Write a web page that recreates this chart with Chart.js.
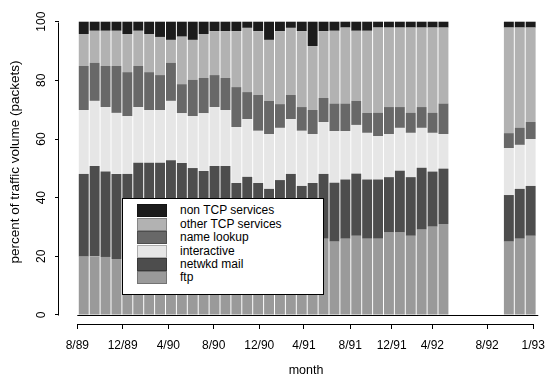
<!DOCTYPE html>
<html>
<head>
<meta charset="utf-8">
<script src="https://cdn.jsdelivr.net/npm/chart.js@4.4.1/dist/chart.umd.min.js"></script>
<style>
  html, body { margin: 0; padding: 0; background: #fff; }
  #wrap { position: relative; width: 553px; height: 376px; }
  #legend {
    position: absolute; left: 122px; top: 198px; width: 200px; height: 95px;
    border: 1px solid #000; background: #fff;
    font: 12px "Liberation Sans", Arial, sans-serif; color: #000;
  }
  .row { position: absolute; left: 14px; height: 13px; }
  .sw { position: absolute; left: 0; top: 0; width: 30px; height: 13px; box-sizing: border-box; border: 1px solid rgba(0,0,0,0.25); }
  .lbl { position: absolute; left: 43px; top: -1px; line-height: 14px; white-space: nowrap; }
</style>
</head>
<body>
<div id="wrap">
  <canvas id="chart" width="553" height="376"></canvas>
  <div id="legend"></div>
</div>
<script>
// one bar per month, 8/89 .. 1/93 (no data 6/92 - 10/92)
const months = ['8/89','9/89','10/89','11/89','12/89','1/90','2/90','3/90','4/90','5/90','6/90','7/90',
  '8/90','9/90','10/90','11/90','12/90','1/91','2/91','3/91','4/91','5/91','6/91','7/91',
  '8/91','9/91','10/91','11/91','12/91','1/92','2/92','3/92','4/92','5/92','6/92','7/92',
  '8/92','9/92','10/92','11/92','12/92','1/93'];

const tickLabels = ['8/89','12/89','4/90','8/90','12/90','4/91','8/91','12/91','4/92','8/92','1/93'];
// where the original puts its month ticks, in bar-index units
const tickPos = [-0.59, 3.57, 7.76, 11.92, 16.1, 20.2, 24.45, 28.25, 31.98, 37.0, 41.24];
const yTicks = [0, 20, 40, 60, 80, 100];

const ftp = [19.9,20.0,19.8,19.1,20,21,21,22,21,22,22,23,22,23,24,23,24,24,25,24,25,25,
  26.0,25.0,26.0,27.0,26.0,26.0,28.1,28.1,27.0,29.1,30.1,31.0,null,null,null,null,null,25.0,26.0,27.0];
const mail = [28.2,30.8,29.1,29.0,28.1,30.9,30.9,29.9,31.8,29.8,28.1,26.1,28.8,27.8,21.0,24.1,21.0,19.0,21.0,24.1,19.0,20.0,
  22.1,20.1,20.2,21.2,20.2,20.2,18.9,21.1,20.0,21.1,18.8,18.9,null,null,null,null,null,15.9,17.0,17.0];
const interactive = [21.8,22.2,22.0,20.8,19.7,19.0,18.0,18.0,20.2,17.0,17.7,19.7,20.1,19.1,19.1,19.7,17.8,18.7,17.8,18.7,18.8,16.7,
  17.7,17.6,16.5,16.6,15.9,14.8,14.7,14.6,15.1,13.6,13.2,11.8,null,null,null,null,null,16.0,15.0,16.0];
const nameLookup = [15.0,13.0,14.0,16.0,15.0,14.0,12.9,11.9,13.0,9.9,12.4,12.0,10.9,10.9,13.6,9.2,12.2,11.3,8.1,8.2,8.1,8.2,
  8.2,9.4,9.4,8.2,6.8,7.9,9.2,7.1,6.8,7.1,6.8,10.4,null,null,null,null,null,5.1,5.9,5.8];
const otherTcp = [10.9,10.9,12.0,12.0,13.0,12.0,13.0,13.0,7.8,16.2,13.6,15.0,15.0,16.0,19.1,21.9,21.8,20.8,24.9,22.9,25.9,21.8,
  22.8,24.8,25.9,23.9,28.0,29.1,27.1,27.1,29.1,27.1,29.1,25.9,null,null,null,null,null,36.0,34.1,32.2];
const nonTcp = [4.2,3.1,3.1,3.1,4.2,3.1,4.2,5.2,6.2,5.1,6.2,4.2,3.2,3.2,3.2,2.1,3.2,6.2,3.2,2.1,3.2,8.3,
  3.2,3.1,2.0,3.1,3.1,2.0,2.0,2.0,2.0,2.0,2.0,2.0,null,null,null,null,null,2.0,2.0,2.0];

const series = [
  {label: 'ftp', data: ftp, color: '#9a9a9a'},
  {label: 'netwkd mail', data: mail, color: '#4d4d4d'},
  {label: 'interactive', data: interactive, color: '#e6e6e6'},
  {label: 'name lookup', data: nameLookup, color: '#686868'},
  {label: 'other TCP services', data: otherTcp, color: '#b2b2b2'},
  {label: 'non TCP services', data: nonTcp, color: '#1c1c1c'}
];

const FONT = '"Liberation Sans", Arial, sans-serif';

// draws the axis lines only over the tick range, plus the zero line under the bars
const axisLines = {
  id: 'axisLines',
  afterDraw(chart) {
    const {ctx, chartArea} = chart;
    const x = chart.scales.x, y = chart.scales.y;
    ctx.save();
    ctx.strokeStyle = '#000';
    ctx.lineWidth = 1;
    ctx.beginPath();
    const lx = Math.round(chartArea.left) - 0.5;
    ctx.moveTo(lx, Math.round(y.getPixelForValue(0)) + 0.5);
    ctx.lineTo(lx, Math.round(y.getPixelForValue(100)) + 0.5);
    const by = Math.round(chartArea.bottom) + 0.5;
    ctx.moveTo(x.getPixelForValue(tickPos[0]), by);
    ctx.lineTo(x.getPixelForValue(tickPos[tickPos.length - 1]), by);
    const zy = Math.round(y.getPixelForValue(0)) + 0.5;
    ctx.moveTo(x.getPixelForValue(tickPos[0]), zy);
    ctx.lineTo(x.getPixelForValue(months.length - 0.3), zy);
    ctx.stroke();
    ctx.restore();
  }
};

// keep the plot area where it is in the original: no label overhang padding
function noOverhang(s) {
  s.paddingTop = 0; s.paddingBottom = 0; s.paddingLeft = 0; s.paddingRight = 0;
}

const chart = new Chart(document.getElementById('chart'), {
  type: 'bar',
  data: {
    labels: months.map((m, i) => i),
    datasets: series.map(s => ({
      label: s.label,
      data: s.data,
      backgroundColor: s.color,
      borderWidth: 0,
      barPercentage: 0.91,
      categoryPercentage: 1
    }))
  },
  options: {
    responsive: false,
    animation: false,
    devicePixelRatio: 1,
    layout: {padding: 0},
    plugins: {
      legend: {display: false},
      tooltip: {enabled: false}
    },
    scales: {
      x: {
        type: 'linear',
        stacked: true,
        offset: false,
        min: -2.27,
        max: 43.05,
        afterBuildTicks: s => { s.ticks = tickPos.map(v => ({value: v})); },
        afterFit: s => { s.height = 52; noOverhang(s); },
        grid: {offset: false, drawOnChartArea: false, drawTicks: true, tickLength: 5, color: '#000'},
        border: {display: false},
        ticks: {
          autoSkip: false, maxRotation: 0, padding: 9, color: '#000',
          font: {family: FONT, size: 12},
          callback: (v, i) => tickLabels[i]
        },
        title: {display: true, text: 'month', color: '#000',
          font: {family: FONT, size: 12.5, lineHeight: 0.85}, padding: 0}
      },
      y: {
        stacked: true,
        min: -3.07,
        max: 107.4,
        afterBuildTicks: s => { s.ticks = yTicks.map(v => ({value: v})); },
        afterFit: s => { s.width = 59; noOverhang(s); },
        grid: {drawOnChartArea: false, drawTicks: true, tickLength: 4, color: '#000'},
        border: {display: false},
        ticks: {
          minRotation: 90, maxRotation: 90, crossAlign: 'center', padding: 3, color: '#000',
          font: {family: FONT, size: 12}
        },
        title: {display: true, text: 'percent of traffic volume (packets)', color: '#000',
          font: {family: FONT, size: 13.5, lineHeight: 1.2}, padding: {top: 7, bottom: 0}}
      }
    }
  },
  plugins: [axisLines]
});

// legend box, top entry is the top of the stack
const legend = document.getElementById('legend');
chart.data.datasets.slice().reverse().forEach((ds, k) => {
  const row = document.createElement('div');
  row.className = 'row';
  row.style.top = (5.3 + k * 13.4) + 'px';
  row.innerHTML = '<div class="sw" style="background:' + ds.backgroundColor + '"></div><div class="lbl">' + ds.label + '</div>';
  legend.appendChild(row);
});
</script>
</body>
</html>
